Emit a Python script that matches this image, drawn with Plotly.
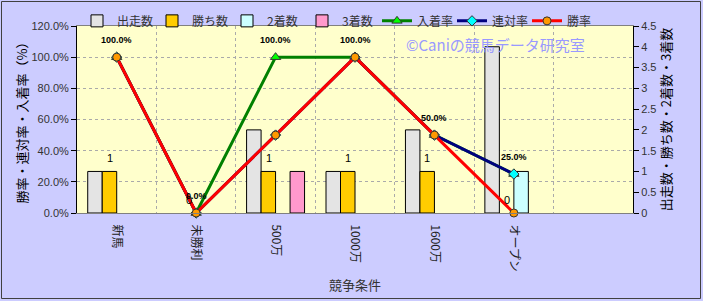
import plotly.graph_objects as go

categories = ["新馬", "未勝利", "500万", "1000万", "1600万", "オープン"]
all_slots = categories + [" "]

starts = [1, 0, 2, 1, 2, 4]        # 出走数
wins = [1, 0, 1, 1, 1, 0]          # 勝ち数
seconds = [0, 0, 0, 0, 0, 1]       # 2着数
thirds = [0, 0, 1, 0, 0, 0]        # 3着数

place_rate = [1.0, 0.0, 1.0, 1.0, 0.5, 0.25]   # 入着率
quinella_rate = [1.0, 0.0, 0.5, 1.0, 0.5, 0.25]  # 連対率
win_rate = [1.0, 0.0, 0.5, 1.0, 0.5, 0.0]     # 勝率

FONT = "Liberation Sans, Noto Sans CJK JP, sans-serif"
JFONT = "Noto Sans CJK JP, sans-serif"

fig = go.Figure()

bar_specs = [
    ("出走数", starts, "#E4E4E4"),
    ("勝ち数", wins, "#FFCC00"),
    ("2着数", seconds, "#CCFFFF"),
    ("3着数", thirds, "#FF99CC"),
]
for name, vals, col in bar_specs:
    fig.add_trace(go.Bar(
        x=categories, y=[v if v else None for v in vals], name=name, yaxis="y",
        marker=dict(color=col, line=dict(color="#000000", width=1)),
    ))

line_specs = [
    ("入着率", place_rate, "#008000", "triangle-up", "#00FF00", 9),
    ("連対率", quinella_rate, "#000080", "diamond", "#00FFFF", 8),
    ("勝率", win_rate, "#FF0000", "circle", "#FF9900", 8),
]
for name, vals, col, sym, mcol, ms in line_specs:
    fig.add_trace(go.Scatter(
        x=categories, y=vals, name=name, yaxis="y2", mode="lines+markers",
        line=dict(color=col, width=3),
        marker=dict(symbol=sym, color=mcol, size=ms, line=dict(color="#333333", width=1)),
        cliponaxis=False,
    ))

annotations = []
for c, v in zip(categories, place_rate):
    annotations.append(dict(
        x=c, y=v, xref="x", yref="y2", text=f"<b>{v*100:.1f}%</b>", showarrow=False,
        yshift=17, font=dict(family="Liberation Sans Narrow, Liberation Sans", size=9, color="#000000"),
    ))
for c, v in zip(categories, wins):
    annotations.append(dict(
        x=c, y=v, xref="x", yref="y", text=str(v), showarrow=False,
        xshift=-7, yshift=13, font=dict(family=FONT, size=11, color="#000000"),
    ))
annotations.append(dict(
    x=0.753, y=0.9, xref="paper", yref="paper", xanchor="center", yanchor="middle",
    text="©Caniの競馬データ研究室",
    showarrow=False, font=dict(family=JFONT, size=15, color="#9999FF"),
))

fig.update_layout(
    width=703, height=301,
    margin=dict(l=77, r=70, t=26, b=88, autoexpand=False),
    paper_bgcolor="#CCCCFF",
    plot_bgcolor="#FFFFCC",
    font=dict(family=FONT, size=11, color="#333333"),
    barmode="group", bargap=0.27, bargroupgap=0,
    showlegend=True,
    legend=dict(
        orientation="h", x=0.0, xanchor="left", y=1.105, yanchor="top",
        bgcolor="rgba(0,0,0,0)", font=dict(family=JFONT, size=12, color="#333333"),
        entrywidth=30, itemwidth=30, traceorder="normal", tracegroupgap=0,
    ),
    xaxis=dict(
        type="category", categoryorder="array", categoryarray=all_slots,
        range=[-0.5, 6.5], tickson="boundaries", tickangle=90, automargin=False,
        showgrid=True, gridcolor="#AAAAAA", griddash="dot", gridwidth=1,
        showline=True, linecolor="#808080", linewidth=1, mirror=True,
        ticks="", ticklabelstandoff=8,
        tickfont=dict(family=JFONT, size=12, color="#222222"),
        title=dict(text="競争条件", font=dict(family=JFONT, size=13, color="#333333"), standoff=10),
    ),
    yaxis=dict(
        side="right", range=[0, 4.5], dtick=0.5, showgrid=False, zeroline=False, automargin=False,
        showline=True, linecolor="#000000", linewidth=1, ticks="outside", ticklen=5,
        tickcolor="#000000", tickfont=dict(size=11, color="#333333"),
        title=dict(text="出走数・勝ち数・2着数・3着数", font=dict(family=JFONT, size=13, color="#000000"), standoff=0),
    ),
    yaxis2=dict(
        side="left", overlaying="y", range=[0, 1.2], dtick=0.2, tickformat=".1%", automargin=False,
        showgrid=True, gridcolor="#AAAAAA", griddash="dot", gridwidth=1, zeroline=False,
        showline=True, linecolor="#000000", linewidth=1, ticks="outside", ticklen=5,
        tickcolor="#000000", tickfont=dict(size=11, color="#333333"),
        title=dict(text="勝率・連対率・入着率（%）", font=dict(family=JFONT, size=13, color="#000000"), standoff=0),
    ),
    annotations=annotations,
    shapes=[dict(
        type="rect", xref="paper", yref="paper",
        x0=(1.5 - 77) / 556, x1=(700.5 - 77) / 556,
        y0=(213 - 298.5) / 187, y1=(213 - 1.5) / 187,
        line=dict(color="#404040", width=1), fillcolor="rgba(0,0,0,0)", layer="below",
    )],
)

fig.write_html("out.html")
